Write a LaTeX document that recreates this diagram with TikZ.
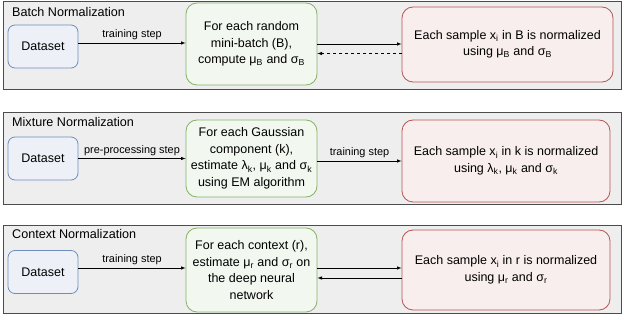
\documentclass[tikz,border=0pt]{standalone}
\usepackage{fontspec}
\setmainfont{Liberation Sans}
\usetikzlibrary{shapes, arrows, positioning, calc}
\definecolor{nmblue}{HTML}{6C8EBF}
\definecolor{nmgreen}{HTML}{82B366}
\definecolor{nmred}{HTML}{B85450}
\definecolor{nmpanel}{HTML}{EEEEEE}

\begin{document}
\begin{tikzpicture}[
      x=1pt, y=-1pt,
      panel/.style={draw=black!70, line width=0.9pt, fill=nmpanel},
      title/.style={anchor=west, inner sep=0pt, font=\fontsize{12.6}{15}\selectfont},
      data/.style={rectangle, rounded corners=7pt, draw=nmblue, fill=nmblue!12,
        line width=0.8pt, minimum width=70pt, minimum height=43pt,
        font=\fontsize{12.5}{15}\selectfont},
      stepbox/.style={rectangle, rounded corners=11pt, draw=nmgreen, fill=nmgreen!10,
        line width=0.8pt, minimum width=131pt, align=center,
        font=\fontsize{12.5}{16.5}\selectfont},
      normbox/.style={rectangle, rounded corners=11pt, draw=nmred, fill=nmred!10,
        line width=0.8pt, minimum width=208pt, align=center,
        font=\fontsize{12.5}{16.5}\selectfont},
      arrow/.style={->, >=latex, semithick},
      lbl/.style={above, inner sep=2.5pt, font=\fontsize{10.9}{13}\selectfont}
    ]
      \useasboundingbox (0,0) rectangle (624,320);

      % Panels
      \draw[panel] (3,1) rectangle (621,89);
      \draw[panel] (3,112) rectangle (621,204);
      \draw[panel] (3,225) rectangle (621,313);

      % Batch Normalization
      \node[title] (tbatch) at (12,12) {Batch Normalization};
      \node[data] (data1) at (43,46.5) {Dataset};
      \node[stepbox, minimum height=82pt] (green1) at (251.5,44)
        {For each random\\mini-batch (B),\\compute μ\textsubscript{B} and σ\textsubscript{B}};
      \node[normbox, minimum width=211pt, minimum height=75pt] (red1) at (507.5,44.5)
        {Each sample x\textsubscript{i} in B is normalized\\using μ\textsubscript{B} and σ\textsubscript{B}};

      \draw[arrow] ([yshift=3.5pt]data1.east) -- node[lbl] {training step} ([yshift=3.5pt]data1.east -| green1.west);
      \draw[arrow] (green1.east) -- (green1.east -| red1.west);
      \draw[arrow, dashed] ([yshift=-9pt]red1.west) -- ([yshift=-9pt]red1.west -| green1.east);

      % Mixture Normalization
      \node[title] (tmix) at (12,122) {Mixture Normalization};
      \node[data] (data2) at (43,158.5) {Dataset};
      \node[stepbox, minimum height=77pt] (green2) at (251.5,158.5)
        {For each Gaussian\\component (k),\\estimate λ\textsubscript{k}, μ\textsubscript{k} and σ\textsubscript{k}\\using EM algorithm};
      \node[normbox, minimum height=82pt] (red2) at (506,161)
        {Each sample x\textsubscript{i} in k is normalized\\using λ\textsubscript{k}, μ\textsubscript{k} and σ\textsubscript{k}};

      \draw[arrow] (data2.east) -- node[lbl] {pre-processing step} (data2.east -| green2.west);
      \draw[arrow] (red2.west -| green2.east) -- node[lbl] {training step} (red2.west);

      % Context Normalization
      \node[title] (tctx) at (12,234) {Context Normalization};
      \node[data] (data3) at (43,272) {Dataset};
      \node[stepbox, minimum height=84pt] (green3) at (251.5,270)
        {For each context (r),\\estimate μ\textsubscript{r} and σ\textsubscript{r} on\\the deep neural\\network};
      \node[normbox, minimum height=80pt] (red3) at (506,270)
        {Each sample x\textsubscript{i} in r is normalized\\using μ\textsubscript{r} and σ\textsubscript{r}};

      \draw[arrow] ([yshift=4pt]data3.east) -- node[lbl] {training step} ([yshift=4pt]data3.east -| green3.west);
      \draw[arrow] ([yshift=2pt]green3.east) -- ([yshift=2pt]green3.east -| red3.west);
      \draw[arrow] ([yshift=-8pt]red3.west) -- ([yshift=-8pt]red3.west -| green3.east);
    \end{tikzpicture}
\end{document}
